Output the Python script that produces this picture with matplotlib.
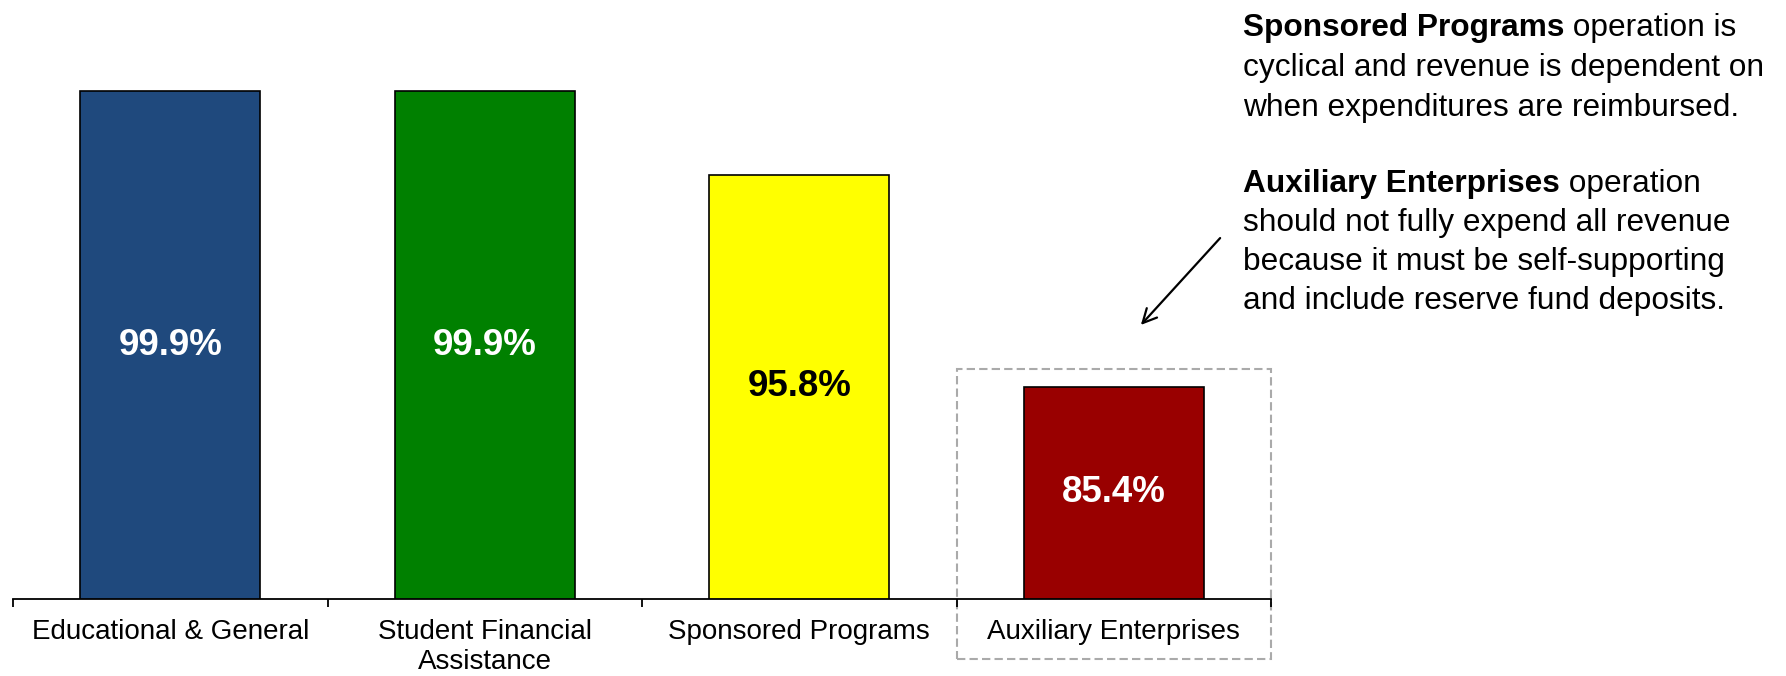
import matplotlib
matplotlib.use("Agg")
import matplotlib.pyplot as plt
from matplotlib.patches import Rectangle
from matplotlib.transforms import blended_transform_factory

plt.rcParams['font.family'] = ['Liberation Sans', 'DejaVu Sans']

# Share of revenue expended, by fund group
categories = ["Educational & General", "Student Financial\nAssistance",
              "Sponsored Programs", "Auxiliary Enterprises"]
values = [99.9, 99.9, 95.8, 85.4]
bar_colors = ["#1F497D", "#008000", "#FFFF00", "#990000"]
label_colors = ["white", "white", "black", "white"]

note_sponsored = [("Sponsored Programs", " operation is"),
                  ("cyclical and revenue is dependent on", None),
                  ("when expenditures are reimbursed.", None)]
note_auxiliary = [("Auxiliary Enterprises", " operation"),
                  ("should not fully expend all revenue", None),
                  ("because it must be self-supporting", None),
                  ("and include reserve fund deposits.", None)]

W, H = 1786, 676
fig = plt.figure(figsize=(W / 100, H / 100), dpi=100)
ax = fig.add_axes([13 / W, (H - 599) / H, 1258 / W, 510 / H])

x = list(range(len(categories)))
ax.bar(x, values, width=0.572, color=bar_colors,
       edgecolor="black", linewidth=1.2, zorder=2)

for xi, v, c in zip(x, values, label_colors):
    ax.text(xi, (75 + v) / 2, f"{v:.1f}%", ha="center", va="center",
            fontsize=26.5, fontweight="bold", color=c, zorder=3)

ax.set_xlim(-0.5, len(categories) - 0.5)
ax.set_ylim(75, 100)
for s in ("left", "right", "top"):
    ax.spines[s].set_visible(False)
ax.spines["bottom"].set_linewidth(1.3)
ax.set_yticks([])
ax.set_xticks(x)
ax.set_xticklabels(categories, fontsize=20, linespacing=1.2)
ax.tick_params(axis="x", which="major", length=0, pad=14.5)
ax.set_xticks([i - 0.5 for i in range(len(categories) + 1)], minor=True)
ax.tick_params(axis="x", which="minor", length=6, width=1.3, direction="out")

# dashed frame around the auxiliary enterprises bar and its label
trans = blended_transform_factory(ax.transData, ax.transAxes)
frame = Rectangle((2.5, -0.1176), 1.0, 0.451 + 0.1176, transform=trans,
                  fill=False, edgecolor="#AAAAAA", linewidth=1.5,
                  linestyle=(0, (4, 2)), clip_on=False, zorder=1)
ax.add_patch(frame)

# arrow from the note down toward the frame
ax.annotate("", xy=(1139, H - 327), xycoords="figure pixels",
            xytext=(1222, H - 236), textcoords="figure pixels",
            arrowprops=dict(arrowstyle="->,head_length=1.0,head_width=0.5",
                            color="black", lw=1.6))

fig.canvas.draw()
renderer = fig.canvas.get_renderer()


def draw_note(lines, baselines, x0=1243, size=22.8):
    for (first, rest), yb in zip(lines, baselines):
        bold = rest is not None
        t = fig.text(x0 / W, (H - yb) / H, first, fontsize=size,
                     fontweight="bold" if bold else "normal",
                     va="baseline", ha="left")
        if bold:
            ext = t.get_window_extent(renderer=renderer)
            fig.text(ext.x1 / W, (H - yb) / H, rest, fontsize=size,
                     va="baseline", ha="left")


draw_note(note_sponsored, [36, 76, 116])
draw_note(note_auxiliary, [192, 231, 270, 309])

fig.savefig("out.png", dpi=100)
